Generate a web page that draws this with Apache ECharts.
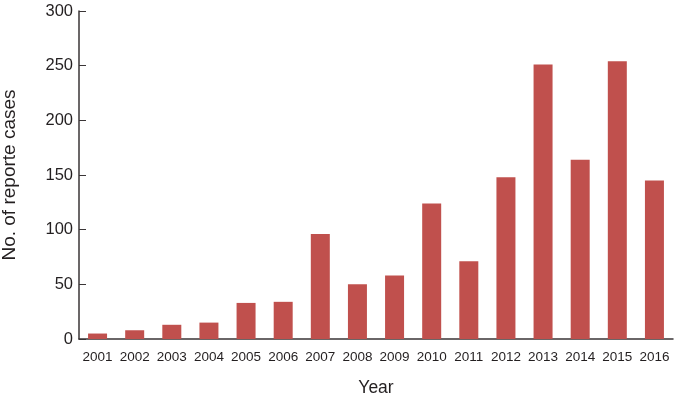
<!DOCTYPE html>
<html>
<head>
<meta charset="utf-8">
<script src="https://cdn.jsdelivr.net/npm/echarts@6/dist/echarts.min.js"></script>
<style>html,body{margin:0;padding:0;background:#fff;}#c{width:679px;height:400px;}</style>
</head>
<body>
<div id="c"></div>
<script>
const years = ['2001','2002','2003','2004','2005','2006','2007','2008','2009','2010','2011','2012','2013','2014','2015','2016'];
const cases = [5, 8, 13, 15, 33, 34, 96, 50, 58, 124, 71, 148, 251, 164, 254, 145];
const yTicks = [0, 50, 100, 150, 200, 250, 300];

const chart = echarts.init(document.getElementById('c'), null, {renderer: 'canvas'});
const axisColor = '#3a3536';
const textColor = '#231f20';
const ff = 'Liberation Sans, Arial, Helvetica, sans-serif';
chart.setOption({
  animation: false,
  grid: {left: 79, right: 6, top: 11, bottom: 61, containLabel: false, outerBoundsMode: 'none'},
  xAxis: {
    type: 'category',
    data: years,
    name: 'Year',
    nameLocation: 'middle',
    nameGap: 40,
    nameTextStyle: {fontFamily: ff, fontSize: 17.5, color: textColor},
    axisLine: {lineStyle: {color: axisColor, width: 1.5}},
    axisTick: {inside: true, length: 6, lineStyle: {color: axisColor}},
    axisLabel: {fontFamily: ff, fontSize: 13.5, color: textColor, margin: 11, interval: 0}
  },
  yAxis: {
    type: 'value',
    min: yTicks[0],
    max: yTicks[yTicks.length - 1],
    interval: 50,
    name: 'No. of reporte cases',
    nameLocation: 'middle',
    nameGap: 60,
    nameRotate: 90,
    nameTextStyle: {fontFamily: ff, fontSize: 19, color: textColor},
    axisLine: {show: true, lineStyle: {color: axisColor, width: 1.5}},
    axisTick: {show: true, inside: true, length: 7, lineStyle: {color: axisColor}},
    splitLine: {show: false},
    axisLabel: {fontFamily: ff, fontSize: 16.5, color: textColor, margin: 6}
  },
  series: [{
    type: 'bar',
    data: cases,
    barWidth: 19,
    itemStyle: {color: '#c0504d'}
  }]
});
</script>
</body>
</html>
